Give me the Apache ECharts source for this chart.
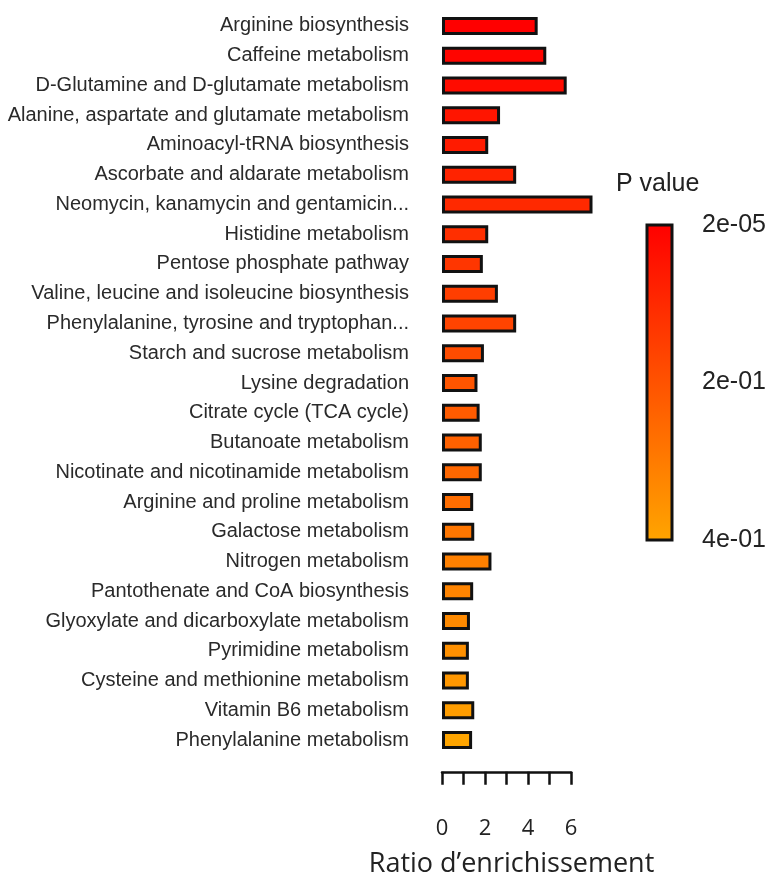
<!DOCTYPE html>
<html>
<head>
<meta charset="utf-8">
<script src="https://cdn.jsdelivr.net/npm/echarts@6/dist/echarts.min.js"></script>
<style>html,body{margin:0;padding:0;background:#fff}#c{width:772px;height:878px}</style>
</head>
<body>
<div id="c"></div>
<script>
const categories = [
  'Arginine biosynthesis',
  'Caffeine metabolism',
  'D-Glutamine and D-glutamate metabolism',
  'Alanine, aspartate and glutamate metabolism',
  'Aminoacyl-tRNA biosynthesis',
  'Ascorbate and aldarate metabolism',
  'Neomycin, kanamycin and gentamicin...',
  'Histidine metabolism',
  'Pentose phosphate pathway',
  'Valine, leucine and isoleucine biosynthesis',
  'Phenylalanine, tyrosine and tryptophan...',
  'Starch and sucrose metabolism',
  'Lysine degradation',
  'Citrate cycle (TCA cycle)',
  'Butanoate metabolism',
  'Nicotinate and nicotinamide metabolism',
  'Arginine and proline metabolism',
  'Galactose metabolism',
  'Nitrogen metabolism',
  'Pantothenate and CoA biosynthesis',
  'Glyoxylate and dicarboxylate metabolism',
  'Pyrimidine metabolism',
  'Cysteine and methionine metabolism',
  'Vitamin B6 metabolism',
  'Phenylalanine metabolism'
];
const ratios = [4.45, 4.85, 5.8, 2.7, 2.15, 3.45, 7.0, 2.15, 1.9, 2.6, 3.45, 1.95, 1.65, 1.75, 1.85, 1.85, 1.45, 1.5, 2.3, 1.45, 1.3, 1.25, 1.25, 1.5, 1.4];
const pvalues = [0.00002, 0.012, 0.03, 0.05, 0.065, 0.085, 0.10, 0.115, 0.13, 0.15, 0.165, 0.185, 0.205, 0.22, 0.235, 0.25, 0.265, 0.285, 0.31, 0.32, 0.335, 0.35, 0.365, 0.38, 0.40];
const xTicks = [0, 2, 4, 6];
const pTicks = [0.00002, 0.2, 0.4];
const pTickLabels = ['2e-05', '2e-01', '4e-01'];
const pColors = ['#FF0000', '#FFA500']; // low p -> high p

const chart = echarts.init(document.getElementById('c'), null, {renderer: 'canvas'});
const pMin = pTicks[0], pMax = pTicks[pTicks.length - 1];

const option = {
  backgroundColor: '#ffffff',
  animation: false,
  title: {
    text: 'P value',
    left: 616, top: 172,
    padding: 0,
    textStyle: {fontFamily: 'Liberation Sans', fontSize: 25, fontWeight: 'normal', color: '#222'}
  },
  visualMap: {
    show: false,
    type: 'continuous',
    seriesIndex: 0,
    dimension: 2,
    min: pMin, max: pMax,
    inRange: {color: pColors}
  },
  grid: [
    {left: 442, width: 172, top: 11, height: 744, containLabel: false},
    {left: 442, width: 129, top: 770, height: 7},
    {left: 647, width: 25, top: 225, height: 315, show: true,
     borderColor: '#111', borderWidth: 3,
     backgroundColor: new echarts.graphic.LinearGradient(0, 0, 0, 1, [
       {offset: 0, color: pColors[0]}, {offset: 1, color: pColors[1]}
     ])}
  ],
  xAxis: [
    {gridIndex: 0, type: 'value', min: 0, max: 8, show: false},
    {gridIndex: 1, type: 'value', min: 0, max: 6, interval: 1, position: 'bottom',
     axisLine: {show: true, lineStyle: {color: '#111', width: 2.5}},
     axisTick: {show: true, length: 13, lineStyle: {color: '#111', width: 2.5}},
     splitLine: {show: false},
     axisLabel: {margin: 46, fontSize: 22, color: '#222', fontFamily: 'Open Sans',
       formatter: v => xTicks.indexOf(v) >= 0 ? String(v) : ''},
     name: 'Ratio d\u2019enrichissement', nameLocation: 'middle', nameGap: 79,
     nameTextStyle: {fontFamily: 'Open Sans', fontSize: 27, color: '#222', padding: [0, 0, 0, 10]}},
    {gridIndex: 2, type: 'value', min: 0, max: 1, show: false}
  ],
  yAxis: [
    {gridIndex: 0, type: 'category', data: categories, inverse: true,
     axisLine: {show: false}, axisTick: {show: false}, splitLine: {show: false},
     axisLabel: {margin: 33, fontSize: 20, color: '#2a2a2a', fontFamily: 'Liberation Sans'}},
    {gridIndex: 1, type: 'value', show: false},
    {gridIndex: 2, type: 'value', min: pMin, max: pMax, inverse: true, position: 'right',
     axisLine: {show: false}, axisTick: {show: false}, splitLine: {show: false},
     axisLabel: {show: true, margin: 30, fontSize: 25, color: '#222', fontFamily: 'Liberation Sans',
       customValues: pTicks,
       formatter: v => pTickLabels[pTicks.indexOf(v)] !== undefined ? pTickLabels[pTicks.indexOf(v)] : ''}}
  ],
  series: [{
    type: 'bar',
    xAxisIndex: 0, yAxisIndex: 0,
    barWidth: 18,
    encode: {x: 0, y: 1},
    itemStyle: {borderColor: '#111', borderWidth: 3},
    data: ratios.map((r, i) => [r, categories[i], pvalues[i]])
  }]
};
chart.setOption(option);
</script>
</body>
</html>
